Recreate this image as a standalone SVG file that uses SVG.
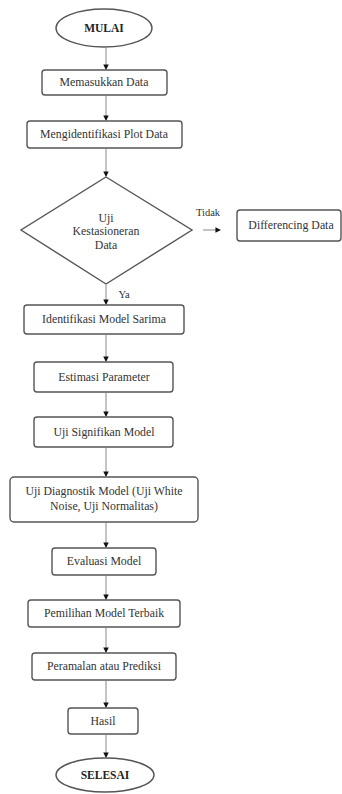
<svg xmlns="http://www.w3.org/2000/svg" width="342" height="794" viewBox="0 0 342 794">
<style>
.box{fill:#fff;stroke:#555;stroke-width:1.4}
.t{font-family:"Liberation Serif","Times New Roman",serif;font-size:11.8px;fill:#333;text-anchor:middle}
.b{font-weight:bold;font-size:11.5px;fill:#222}
.c{stroke:#888;stroke-width:1;fill:none;marker-end:url(#ah)}
</style>
<defs>
<marker id="ah" viewBox="0 0 6 6" refX="5" refY="3" markerWidth="5.5" markerHeight="5.5" markerUnits="userSpaceOnUse" orient="auto">
<path d="M0,0 L6,3 L0,6 z" fill="#111"/>
</marker>
</defs>
<rect width="342" height="794" fill="#fff"/>
<g id="connectors">
<line class="c" x1="106" y1="48" x2="106" y2="69"/>
<line class="c" x1="106" y1="96" x2="106" y2="120"/>
<line class="c" x1="106" y1="149" x2="106" y2="176"/>
<line class="c" x1="203" y1="230" x2="220" y2="230"/>
<text class="t" x="208" y="216" style="font-size:10.5px">Tidak</text>
<line class="c" x1="106" y1="285" x2="106" y2="304"/>
<text class="t" x="124" y="298" style="font-size:10.5px">Ya</text>
<line class="c" x1="106" y1="335" x2="106" y2="361"/>
<line class="c" x1="106" y1="393" x2="106" y2="416"/>
<line class="c" x1="106" y1="448" x2="106" y2="476"/>
<line class="c" x1="106" y1="523" x2="106" y2="547"/>
<line class="c" x1="106" y1="576" x2="106" y2="599"/>
<line class="c" x1="106" y1="628" x2="106" y2="652"/>
<line class="c" x1="106" y1="681" x2="106" y2="707"/>
<line class="c" x1="106" y1="735" x2="106" y2="757"/>
</g>
<g id="mulai">
<ellipse class="box" cx="104" cy="28" rx="48" ry="19"/>
<text class="t b" x="104" y="32">MULAI</text>
</g>
<g id="n1">
<rect class="box" x="42" y="70" width="125" height="25" rx="3"/>
<text class="t" x="104" y="86">Memasukkan Data</text>
</g>
<g id="n2">
<rect class="box" x="27" y="121" width="155" height="27" rx="3"/>
<text class="t" x="104" y="138">Mengidentifikasi Plot Data</text>
</g>
<g id="decision">
<polygon class="box" points="106,177 192,230 106,284 21,230"/>
<text class="t" x="106" y="222">Uji</text>
<text class="t" x="106" y="235">Kestasioneran</text>
<text class="t" x="106" y="249">Data</text>
</g>
<g id="diff">
<rect class="box" x="237" y="210" width="104" height="31" rx="3"/>
<text class="t" x="291" y="229">Differencing Data</text>
</g>
<g id="n3">
<rect class="box" x="24" y="305" width="160" height="29" rx="3"/>
<text class="t" x="104" y="323">Identifikasi Model Sarima</text>
</g>
<g id="n4">
<rect class="box" x="34" y="362" width="139" height="30" rx="3"/>
<text class="t" x="104" y="381">Estimasi Parameter</text>
</g>
<g id="n5">
<rect class="box" x="34" y="417" width="139" height="30" rx="3"/>
<text class="t" x="104" y="436">Uji Signifikan Model</text>
</g>
<g id="n6">
<rect class="box" x="10" y="477" width="188" height="45" rx="4"/>
<text class="t" x="104" y="495">Uji Diagnostik Model (Uji White</text>
<text class="t" x="104" y="510">Noise, Uji Normalitas)</text>
</g>
<g id="n7">
<rect class="box" x="52" y="548" width="104" height="27" rx="3"/>
<text class="t" x="104" y="565">Evaluasi Model</text>
</g>
<g id="n8">
<rect class="box" x="28" y="600" width="152" height="27" rx="3"/>
<text class="t" x="104" y="617">Pemilihan Model Terbaik</text>
</g>
<g id="n9">
<rect class="box" x="32" y="653" width="144" height="27" rx="3"/>
<text class="t" x="104" y="670">Peramalan atau Prediksi</text>
</g>
<g id="n10">
<rect class="box" x="68" y="708" width="70" height="26" rx="3"/>
<text class="t" x="103" y="725">Hasil</text>
</g>
<g id="selesai">
<ellipse class="box" cx="105" cy="775" rx="49" ry="17"/>
<text class="t b" x="105" y="779">SELESAI</text>
</g>
</svg>
